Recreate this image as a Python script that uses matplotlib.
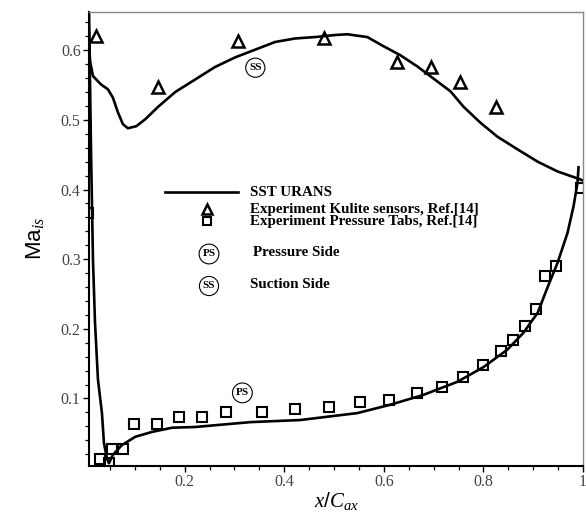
import numpy as np
import matplotlib.pyplot as plt
from matplotlib.lines import Line2D

plt.rcParams['mathtext.fontset'] = 'custom'
plt.rcParams['mathtext.rm'] = 'Liberation Sans'
plt.rcParams['mathtext.it'] = 'Liberation Serif:italic'

# SST URANS, suction side
ss_x = [0.006, 0.008, 0.010, 0.016, 0.032, 0.046, 0.056, 0.066, 0.076, 0.086,
        0.103, 0.121, 0.147, 0.181, 0.221, 0.261, 0.302, 0.342, 0.382, 0.422,
        0.462, 0.503, 0.527, 0.567, 0.599, 0.633, 0.667, 0.708, 0.734, 0.760,
        0.794, 0.828, 0.868, 0.909, 0.949, 0.989, 1.000]
ss_y = [0.660, 0.620, 0.585, 0.563, 0.551, 0.544, 0.532, 0.511, 0.494, 0.488,
        0.491, 0.501, 0.519, 0.540, 0.558, 0.576, 0.590, 0.601, 0.612, 0.617,
        0.619, 0.622, 0.623, 0.619, 0.606, 0.593, 0.577, 0.555, 0.541, 0.519,
        0.496, 0.476, 0.458, 0.440, 0.426, 0.416, 0.413]

# SST URANS, pressure side
ps_x = [0.008, 0.012, 0.016, 0.020, 0.026, 0.034, 0.038, 0.044, 0.048, 0.056,
        0.074, 0.101, 0.135, 0.175, 0.221, 0.332, 0.432, 0.547, 0.613, 0.679,
        0.748, 0.800, 0.848, 0.880, 0.909, 0.929, 0.949, 0.969, 0.981, 0.989,
        0.991]
ps_y = [0.660, 0.458, 0.299, 0.210, 0.127, 0.079, 0.036, 0.014, 0.007, 0.019,
        0.033, 0.045, 0.052, 0.058, 0.059, 0.066, 0.069, 0.079, 0.091, 0.105,
        0.124, 0.145, 0.170, 0.194, 0.223, 0.260, 0.295, 0.338, 0.376, 0.410,
        0.432]

# Experiment, Kulite sensors
kulite_x = [0.022, 0.147, 0.308, 0.480, 0.627, 0.695, 0.754, 0.826]
kulite_y = [0.620, 0.548, 0.614, 0.618, 0.583, 0.576, 0.555, 0.519]

# Experiment, pressure tabs
tabs_x = [0.006, 0.030, 0.048, 0.054, 0.076, 0.098, 0.145, 0.189, 0.235, 0.283,
          0.356, 0.422, 0.490, 0.553, 0.611, 0.667, 0.716, 0.760, 0.800, 0.836,
          0.860, 0.884, 0.905, 0.923, 0.945, 0.995]
tabs_y = [0.367, 0.013, 0.008, 0.027, 0.027, 0.063, 0.063, 0.073, 0.073, 0.081,
          0.081, 0.085, 0.088, 0.095, 0.098, 0.108, 0.117, 0.131, 0.148, 0.168,
          0.184, 0.204, 0.229, 0.276, 0.290, 0.402]

W, H = 586, 514
fig = plt.figure(figsize=(W / 100, H / 100), dpi=100)
ax = fig.add_axes([89 / W, 1 - 466 / H, (583 - 89) / W, (466 - 12) / H])

ax.plot(ss_x, ss_y, color='black', lw=1.9, solid_joinstyle='round')
ax.plot(ps_x, ps_y, color='black', lw=1.9, solid_joinstyle='round')
ax.plot(kulite_x, kulite_y, ls='none', marker='^', ms=8, mfc='none', mec='black', mew=1.8)
ax.plot(tabs_x, tabs_y, ls='none', marker='s', ms=7, mfc='none', mec='black', mew=1.5)

ax.set_xlim(0.008, 1.0)
ax.set_ylim(0.003, 0.655)
ax.set_xticks([0.2, 0.4, 0.6, 0.8, 1.0])
ax.set_xticklabels(['0.2', '0.4', '0.6', '0.8', '1'])
ax.set_xticks(np.arange(0.05, 1.0, 0.05), minor=True)
ax.set_yticks([0.1, 0.2, 0.3, 0.4, 0.5, 0.6])
ax.set_yticks(np.arange(0.02, 0.65, 0.02), minor=True)

for lab in ax.get_xticklabels() + ax.get_yticklabels():
    lab.set_fontfamily('Liberation Serif')
    lab.set_fontsize(11.5)
    lab.set_color('#444444')
ax.tick_params(which='major', direction='out', length=4, width=1, pad=2)
ax.tick_params(which='minor', direction='out', length=3, width=0.9)
ax.tick_params(top=False, right=False)

for side in ['left', 'bottom']:
    ax.spines[side].set_linewidth(1.5)
    ax.spines[side].set_color('black')
for side in ['top', 'right']:
    ax.spines[side].set_linewidth(1.0)
    ax.spines[side].set_color('#888888')

ax.set_xlabel(r'$x\mathit{/}C_{ax}$', fontsize=15, labelpad=0)
ax.set_ylabel(r'$\mathrm{Ma}_{is}$', fontsize=16, labelpad=11)

circ = dict(boxstyle='circle,pad=0.3', fc='white', ec='black', lw=0.8)
ax.text(0.342, 0.575, 'SS', fontsize=8, family='Liberation Serif', fontweight='bold',
        ha='center', va='center', bbox=circ)
ax.text(0.316, 0.108, 'PS', fontsize=8, family='Liberation Serif', fontweight='bold',
        ha='center', va='center', bbox=circ)

# legend, drawn by hand in figure pixels
def fp(px, py):
    return px / W, 1 - py / H

tf = fig.transFigure
lx0, _ = fp(165, 0)
lx1, ly = fp(238, 192)
fig.add_artist(Line2D([lx0, lx1], [ly, ly], color='black', lw=1.9, transform=tf))
fig.add_artist(Line2D([fp(207, 209)[0]], [fp(207, 209)[1]], ls='none', marker='^', ms=7,
                      mfc='none', mec='black', mew=1.8, transform=tf))
fig.add_artist(Line2D([fp(207, 221)[0]], [fp(207, 221)[1]], ls='none', marker='s', ms=6,
                      mfc='none', mec='black', mew=1.5, transform=tf))
fig.text(*fp(209, 254), 'PS', fontsize=8, family='Liberation Serif', fontweight='bold',
         ha='center', va='center', bbox=circ)
fig.text(*fp(209, 286), 'SS', fontsize=8, family='Liberation Serif', fontweight='bold',
         ha='center', va='center', bbox=circ)

leg_texts = [(250, 192, 'SST URANS'),
             (250, 209, 'Experiment Kulite sensors, Ref.[14]'),
             (250, 221, 'Experiment Pressure Tabs, Ref.[14]'),
             (253, 253, 'Pressure Side'),
             (250, 285, 'Suction Side')]
for px, py, s in leg_texts:
    fig.text(*fp(px, py), s, fontsize=10.8, family='Liberation Serif', fontweight='bold',
             ha='left', va='center')

fig.savefig('out.png', dpi=100)
